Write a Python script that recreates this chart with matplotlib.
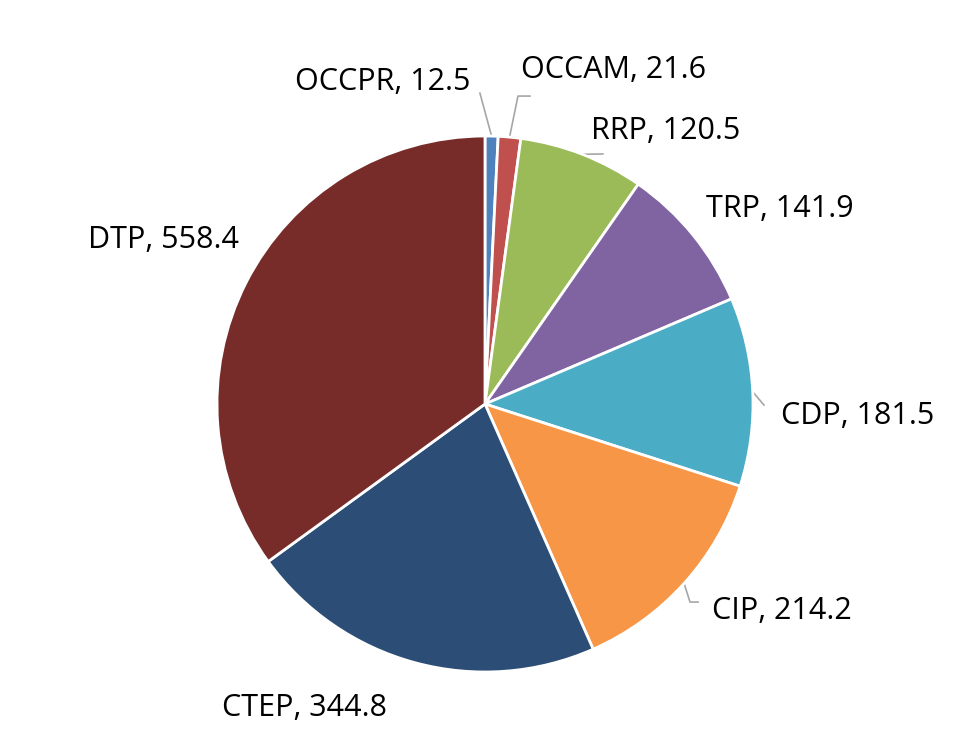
import numpy as np
import matplotlib.pyplot as plt

labels = ['OCCPR', 'OCCAM', 'RRP', 'TRP', 'CDP', 'CIP', 'CTEP', 'DTP']
values = [12.5, 21.6, 120.5, 141.9, 181.5, 214.2, 344.8, 558.4]
colors = ['#4F81BD', '#C0504D', '#9BBB59', '#8064A2',
          '#4BACC6', '#F79646', '#2C4D75', '#772C2A']

# label placement (left edge, vertical centre) in pie-radius units
label_pos = {
    'OCCPR': (-0.709, 1.201), 'OCCAM': (0.134, 1.246), 'RRP': (0.396, 1.019),
    'TRP': (0.825, 0.728), 'CDP': (1.104, -0.045), 'CIP': (0.847, -0.772),
    'CTEP': (-0.981, -1.134), 'DTP': (-1.481, 0.612),
}
# leader line paths (after the point on the pie edge)
leaders = {
    'OCCPR': [(-0.019, 1.160)],
    'OCCAM': [(0.123, 1.149), (0.168, 1.149)],
    'RRP': [(0.44, 0.933)],
    'CDP': [(1.041, -0.004)],
    'CIP': [(0.765, -0.739), (0.795, -0.739)],
}

fig = plt.figure(figsize=(9.7, 7.44), dpi=100)
ax = fig.add_axes([0, 0, 1, 1])

wedges, _ = ax.pie(values, colors=colors, startangle=90, counterclock=False,
                   radius=1, wedgeprops=dict(edgecolor='white', linewidth=2))

total = sum(values)
cum = 0
for lab, v in zip(labels, values):
    mid = np.deg2rad(90 - 360 * (cum + v / 2) / total)
    cum += v
    if lab in leaders:
        pts = [(np.cos(mid), np.sin(mid))] + leaders[lab]
        xs, ys = zip(*pts)
        ax.plot(xs, ys, color='#A6A6A6', lw=1.2, zorder=0.5)
    x, y = label_pos[lab]
    ax.text(x, y, f'{lab}, {v}', ha='left', va='center',
            fontsize=22, family='Open Sans', color='black')

ax.set_xlim(-485 / 268, 485 / 268)
ax.set_ylim(-340 / 268, 404 / 268)
ax.set_aspect('auto')
ax.axis('off')

fig.savefig('out.png', dpi=100)
